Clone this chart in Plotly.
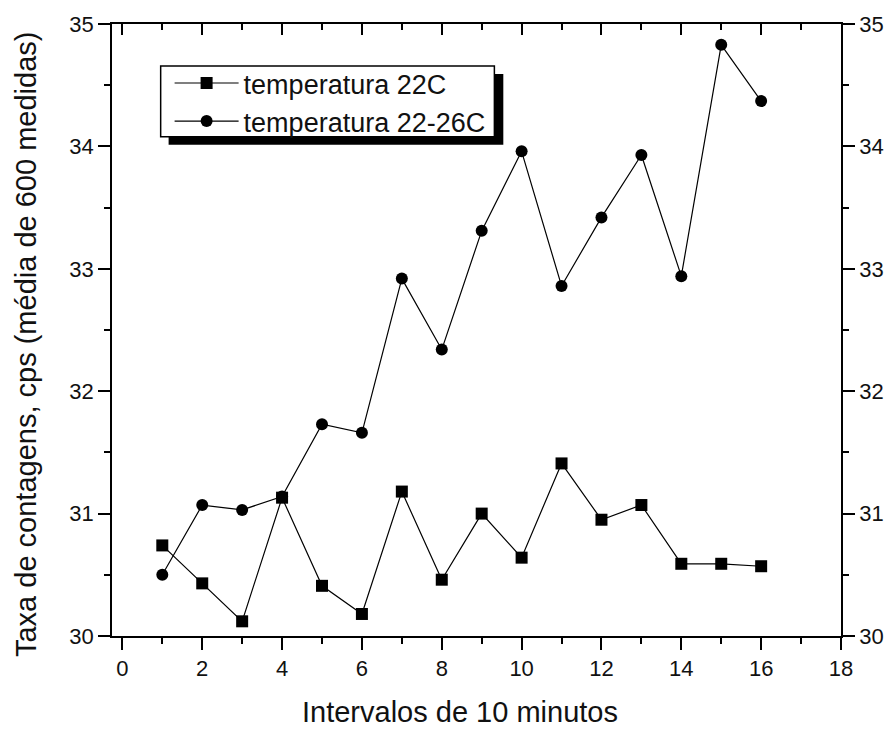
import plotly.graph_objects as go

# Data
intervalos = list(range(1, 17))
temp_22 = [30.74, 30.43, 30.12, 31.13, 30.41, 30.18, 31.18, 30.46,
           31.00, 30.64, 31.41, 30.95, 31.07, 30.59, 30.59, 30.57]
temp_22_26 = [30.50, 31.07, 31.03, 31.14, 31.73, 31.66, 32.92, 32.34,
              33.31, 33.96, 32.86, 33.42, 33.93, 32.94, 34.83, 34.37]
serie_nomes = ["temperatura 22C", "temperatura 22-26C"]
x_titulo = "Intervalos de 10 minutos"
y_titulo = "Taxa de contagens, cps (média de 600 medidas)"
x_ticks = list(range(0, 19, 2))
y_ticks = [30, 31, 32, 33, 34, 35]

FONT = "Liberation Sans, Arial, sans-serif"
W, H = 896, 729
ML, MR, MT, MB = 112, 50, 23, 93
PW, PH = W - ML - MR, H - MT - MB


def px_x(p):
    return (p - ML) / PW


def px_y(p):
    return (H - MB - p) / PH


fig = go.Figure()
fig.add_trace(go.Scatter(
    x=intervalos, y=temp_22, name=serie_nomes[0], mode="lines+markers",
    line=dict(color="black", width=1.2),
    marker=dict(symbol="square", size=12, color="black"),
))
fig.add_trace(go.Scatter(
    x=intervalos, y=temp_22_26, name=serie_nomes[1], mode="lines+markers",
    line=dict(color="black", width=1.2),
    marker=dict(symbol="circle", size=12, color="black"),
))
# invisible trace to activate secondary axes
fig.add_trace(go.Scatter(x=[None], y=[None], xaxis="x2", yaxis="y2",
                         showlegend=False, hoverinfo="skip"))

xr = [-0.26, 18]
yr = [30, 35]
common = dict(showgrid=False, zeroline=False, showline=True, linecolor="black",
              linewidth=1.5, tickcolor="black", tickwidth=1.5,
              tickfont=dict(family=FONT, size=22, color="#111"))

fig.update_layout(
    width=W, height=H,
    margin=dict(l=ML, r=MR, t=MT, b=MB, pad=0),
    paper_bgcolor="white", plot_bgcolor="white",
    font=dict(family=FONT, color="#111"),
    xaxis=dict(range=xr, tickvals=x_ticks, ticks="outside", ticklen=12,
               minor=dict(dtick=1, ticks="outside", ticklen=6,
                          tickcolor="black", tickwidth=1.5),
               **common),
    yaxis=dict(range=yr, tickvals=y_ticks, ticks="outside", ticklen=12,
               minor=dict(dtick=0.5, ticks="outside", ticklen=6,
                          tickcolor="black", tickwidth=1.5),
               **common),
    xaxis2=dict(range=xr, overlaying="x", side="top", tickvals=x_ticks,
                ticks="inside", ticklen=11, showticklabels=False,
                minor=dict(dtick=1, ticks="inside", ticklen=6,
                           tickcolor="black", tickwidth=1.5),
                **common),
    yaxis2=dict(range=yr, overlaying="y", side="right", tickvals=y_ticks,
                ticks="outside", ticklen=12,
                minor=dict(dtick=0.5, ticks="outside", ticklen=6,
                           tickcolor="black", tickwidth=1.5),
                **common),
    showlegend=True,
    legend=dict(x=px_x(170), y=px_y(58), xanchor="left", yanchor="top",
                bgcolor="rgba(0,0,0,0)", borderwidth=0,
                font=dict(family=FONT, size=27, color="#111"),
                itemwidth=64, tracegroupgap=0),
    annotations=[
        dict(text=x_titulo, xref="paper", yref="paper", x=px_x(462), y=px_y(712),
             xanchor="center", yanchor="middle", showarrow=False,
             font=dict(family=FONT, size=29, color="#111")),
        dict(text=y_titulo, xref="paper", yref="paper", x=px_x(26), y=px_y(344),
             xanchor="center", yanchor="middle", showarrow=False, textangle=-90,
             font=dict(family=FONT, size=29, color="#111")),
    ],
    shapes=[
        # legend shadow
        dict(type="rect", xref="paper", yref="paper", layer="above",
             x0=px_x(169), x1=px_x(506), y0=px_y(144), y1=px_y(73),
             fillcolor="black", line=dict(width=0)),
        # legend box
        dict(type="rect", xref="paper", yref="paper", layer="above",
             x0=px_x(161), x1=px_x(497), y0=px_y(136), y1=px_y(65),
             fillcolor="white", line=dict(color="black", width=1.5)),
    ],
)

fig.write_html("out.html")
